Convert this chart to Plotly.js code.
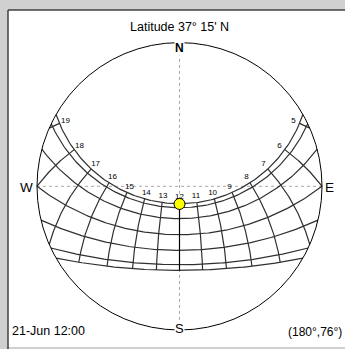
<!DOCTYPE html>
<html>
<head>
<meta charset="utf-8">
<script src="https://cdn.plot.ly/plotly-3.0.1.min.js"></script>
<style>html,body{margin:0;padding:0;background:#d0d0d0;}#chart{width:345px;height:349px;}</style>
</head>
<body>
<div id="chart"></div>
<script>
// ---- data ----
const latitude = 37.25;                 // 37° 15' N
const titleText = "Latitude 37\u00b0 15' N";
const dateLabels = ['21-Jun', '21-May/Jul', '21-Apr/Aug', '21-Mar/Sep', '21-Feb/Oct', '21-Jan/Nov', '21-Dec'];
const declinations = [23.44, 20.3, 11.9, 0.0, -10.8, -20.0, -23.44];
const hours = [5, 6, 7, 8, 9, 10, 11, 12, 13, 14, 15, 16, 17, 18, 19];
const hourLabels = ['5', '6', '7', '8', '9', '10', '11', '12', '13', '14', '15', '16', '17', '18', '19'];
const currentLabel = '21-Jun 12:00';
const sunAzimuth = [180];
const sunAltitude = [76];
const sunReadout = '(180\u00b0,76\u00b0)';

// ---- geometry ----
const W = 345, H = 349;
const cx = 179.5, cy = 186.3, Rx = 142.5, Ry = 143.7;
const d2r = Math.PI / 180;
const lat = latitude * d2r;

function sunVec(dec, ha) { // dec, hour angle in degrees
  const d = dec * d2r, h = ha * d2r;
  const e = -Math.cos(d) * Math.sin(h);
  const n = Math.sin(d) * Math.cos(lat) - Math.cos(d) * Math.cos(h) * Math.sin(lat);
  const u = Math.sin(d) * Math.sin(lat) + Math.cos(d) * Math.cos(h) * Math.cos(lat);
  return [e, n, u];
}
function stereo(v) { return [v[0] / (1 + v[2]), v[1] / (1 + v[2])]; }
function projAzAlt(az, alt) {
  const r = Math.tan((90 - alt) / 2 * d2r);
  return [r * Math.sin(az * d2r), r * Math.cos(az * d2r)];
}

const traces = [];
const lineColor = '#303030';

// date paths
declinations.forEach((dec, i) => {
  const c = -Math.tan(lat) * Math.tan(dec * d2r);
  const hs = Math.acos(Math.max(-1, Math.min(1, c))) / d2r;
  const xs = [], ys = [];
  const N = 160;
  for (let k = 0; k <= N; k++) {
    const ha = -hs + 2 * hs * k / N;
    const p = stereo(sunVec(dec, ha));
    xs.push(p[0]); ys.push(p[1]);
  }
  traces.push({x: xs, y: ys, mode: 'lines', type: 'scatter', name: dateLabels[i],
    line: {color: lineColor, width: 1.2}, hoverinfo: 'skip'});
});

// hour lines
const decHi = Math.max(...declinations), decLo = Math.min(...declinations);
const labX = [], labY = [];
hours.forEach((hr) => {
  const ha = 15 * (hr - 12);
  const cosH = Math.cos(ha * d2r);
  const horizonDec = Math.atan(-cosH / Math.tan(lat)) / d2r;
  const lo = Math.max(decLo, horizonDec);
  const xs = [], ys = [];
  const N = 80;
  for (let k = 0; k <= N; k++) {
    const dec = decHi - (decHi - lo) * k / N;
    const p = stereo(sunVec(dec, ha));
    xs.push(p[0]); ys.push(p[1]);
  }
  traces.push({x: xs, y: ys, mode: 'lines', type: 'scatter', name: hr + 'h',
    line: {color: hr === 12 ? '#000' : lineColor, width: 1.2}, hoverinfo: 'skip'});
  // label on inner side of the top path
  const p0 = stereo(sunVec(decHi, ha));
  const pa = stereo(sunVec(decHi, ha - 1)), pb = stereo(sunVec(decHi, ha + 1));
  let tx = (pb[0] - pa[0]) * Rx, ty = (pb[1] - pa[1]) * Ry;
  const L = Math.hypot(tx, ty); tx /= L; ty /= L;
  const nx = ty, ny = -tx;
  const off = 6.5;
  labX.push(p0[0] + nx * off / Rx);
  labY.push(p0[1] + ny * off / Ry);
});
traces.push({x: labX, y: labY, mode: 'text', type: 'scatter', text: hourLabels,
  textfont: {family: 'Liberation Sans, Arial, sans-serif', size: 8, color: '#000'},
  textposition: 'middle center', hoverinfo: 'skip'});

// sun
const sp = sunAzimuth.map((a, i) => projAzAlt(a, sunAltitude[i]));
traces.push({x: sp.map(p => p[0]), y: sp.map(p => p[1]), mode: 'markers', type: 'scatter',
  marker: {size: 11, color: '#ffff00', line: {color: '#000', width: 1}}, hoverinfo: 'skip'});

const px = v => v / W, py = v => 1 - v / H;
const font = {family: 'Liberation Sans, Arial, sans-serif', size: 12.5, color: '#000'};

const layout = {
  width: W, height: H,
  margin: {l: 0, r: 0, t: 0, b: 0, pad: 0},
  paper_bgcolor: '#d0d0d0',
  plot_bgcolor: 'rgba(0,0,0,0)',
  showlegend: false,
  xaxis: {range: [-cx / Rx, (W - cx) / Rx], visible: false, fixedrange: true},
  yaxis: {range: [-(H - cy) / Ry, cy / Ry], visible: false, fixedrange: true},
  shapes: [
    {type: 'rect', xref: 'paper', yref: 'paper', x0: px(8), x1: px(345), y0: py(347), y1: py(10),
      fillcolor: '#ffffff', line: {width: 0}, layer: 'below'},
    {type: 'line', xref: 'paper', yref: 'paper', x0: px(8), x1: px(345), y0: py(10), y1: py(10),
      line: {color: '#404040', width: 1.5}},
    {type: 'line', xref: 'paper', yref: 'paper', x0: px(8), x1: px(8), y0: py(10), y1: py(349),
      line: {color: '#404040', width: 1.5}},
    {type: 'line', x0: -1, x1: 1, y0: 0, y1: 0, line: {color: '#a8a8a8', width: 1, dash: 'dot'}, layer: 'below'},
    {type: 'line', x0: 0, x1: 0, y0: 0.97, y1: -1, line: {color: '#a8a8a8', width: 1, dash: 'dot'}, layer: 'below'},
    {type: 'circle', x0: -1, x1: 1, y0: -1, y1: 1, line: {color: '#000', width: 1}}
  ],
  annotations: [
    {text: titleText, xref: 'paper', yref: 'paper', x: px(179), y: py(18), showarrow: false, font: font},
    {text: '<b>N</b>', xref: 'paper', yref: 'paper', x: px(179.5), y: py(40), showarrow: false,
      font: {family: font.family, size: 12, color: '#000'}, bgcolor: '#ffffff', borderpad: 0},
    {text: 'S', xref: 'paper', yref: 'paper', x: px(179.5), y: py(337), showarrow: false,
      font: {family: font.family, size: 13, color: '#000'}, bgcolor: '#ffffff', borderpad: 0},
    {text: 'W', xref: 'paper', yref: 'paper', x: px(34), y: py(187), xanchor: 'right', borderpad: 0,
      showarrow: false, font: {family: font.family, size: 13.5, color: '#000'}},
    {text: 'E', xref: 'paper', yref: 'paper', x: px(324), y: py(187), xanchor: 'left', borderpad: 0,
      showarrow: false, font: {family: font.family, size: 13.5, color: '#000'}},
    {text: currentLabel, xref: 'paper', yref: 'paper', x: px(10), y: py(340), xanchor: 'left',
      showarrow: false, font: font},
    {text: sunReadout, xref: 'paper', yref: 'paper', x: px(343), y: py(340), xanchor: 'right',
      borderpad: 0, showarrow: false, font: {family: font.family, size: 12, color: '#000'}}
  ]
};

Plotly.newPlot('chart', traces, layout, {displayModeBar: false, staticPlot: true});
</script>
</body>
</html>
